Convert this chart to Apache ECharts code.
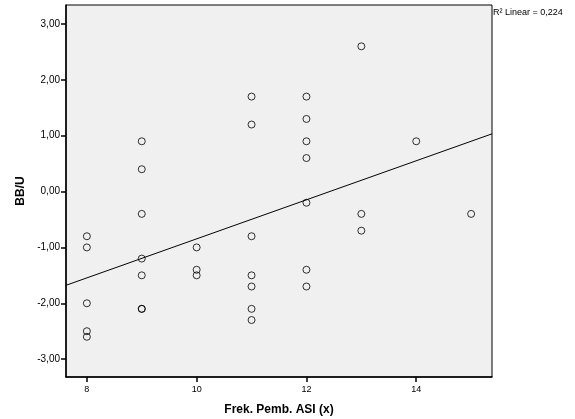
<!DOCTYPE html>
<html>
<head>
<meta charset="utf-8">
<script src="https://cdn.jsdelivr.net/npm/echarts@6/dist/echarts.min.js"></script>
<style>html,body{margin:0;padding:0;background:#fff;}#c{width:575px;height:419px;}</style>
</head>
<body>
<div id="c"></div>
<script>
// Data
const xValues = [8,8,8,8,8, 9,9,9,9,9,9,9, 10,10,10, 11,11,11,11,11,11,11, 12,12,12,12,12,12,12, 13,13,13, 14, 15];
const yValues = [-0.8,-1.0,-2.0,-2.5,-2.6, 0.9,0.4,-0.4,-1.2,-1.5,-2.1,-2.1, -1.0,-1.4,-1.5, 1.7,1.2,-0.8,-1.5,-1.7,-2.1,-2.3, 1.7,1.3,0.9,0.6,-0.2,-1.4,-1.7, 2.6,-0.4,-0.7, 0.9, -0.4];
const xTicks = [8, 10, 12, 14];
const yTicks = [-3, -2, -1, 0, 1, 2, 3];
const xRange = [7.62, 15.38];
const yRange = [-3.32, 3.34];
const r2Text = 'R² Linear = 0,224';
const xTitle = 'Frek. Pemb. ASI (x)';
const yTitle = 'BB/U';

// least squares fit
const n = xValues.length;
const mx = xValues.reduce((a,b)=>a+b,0)/n;
const my = yValues.reduce((a,b)=>a+b,0)/n;
let sxy=0,sxx=0;
for(let i=0;i<n;i++){sxy+=(xValues[i]-mx)*(yValues[i]-my);sxx+=(xValues[i]-mx)**2;}
const slope=sxy/sxx, icpt=my-slope*mx;
const fitLine=[[xRange[0],icpt+slope*xRange[0]],[xRange[1],icpt+slope*xRange[1]]];

const chart = echarts.init(document.getElementById('c'), null, {renderer:'canvas'});
const font = 'Arial, "Liberation Sans", sans-serif';
chart.setOption({
  animation:false,
  grid:{left:66, top:5, right:83, bottom:42, outerBoundsMode:'none', containLabel:false, show:true, backgroundColor:'#f0f0f0', borderColor:'#000', borderWidth:1},
  xAxis:{
    type:'value', min:xRange[0], max:xRange[1],
    name:xTitle, nameLocation:'middle', nameGap:27,
    nameTextStyle:{fontFamily:font, fontWeight:'bold', fontSize:12, color:'#000'},
    axisLine:{show:true, onZero:false, lineStyle:{color:'#000', width:1.5}},
    axisTick:{show:true, length:5, customValues:xTicks, lineStyle:{color:'#000', width:1.5}},
    axisLabel:{customValues:xTicks, fontFamily:font, fontSize:9, color:'#000', margin:8, formatter:v=>String(v)},
    splitLine:{show:false}
  },
  yAxis:{
    type:'value', min:yRange[0], max:yRange[1],
    name:yTitle, nameLocation:'middle', nameGap:37,
    nameTextStyle:{fontFamily:font, fontWeight:'bold', fontSize:12, color:'#000'},
    axisLine:{show:true, onZero:false, lineStyle:{color:'#000', width:1.5}},
    axisTick:{show:true, length:5, customValues:yTicks, lineStyle:{color:'#000', width:1.5}},
    axisLabel:{customValues:yTicks, fontFamily:font, fontSize:10, color:'#000', margin:6, formatter:v=>v.toFixed(2).replace('.',',')},
    splitLine:{show:false}
  },
  series:[
    {type:'scatter', data:xValues.map((x,i)=>[x,yValues[i]]), symbol:'circle', symbolSize:7,
     itemStyle:{color:'rgba(0,0,0,0)', borderColor:'#000', borderWidth:1}, z:3},
    {type:'line', data:fitLine, symbol:'none', lineStyle:{color:'#000', width:1}, z:2}
  ],
  graphic:[
    {type:'text', left:493, top:8, style:{text:r2Text, fontFamily:font, fontSize:9, fill:'#000'}}
  ]
});
</script>
</body>
</html>
